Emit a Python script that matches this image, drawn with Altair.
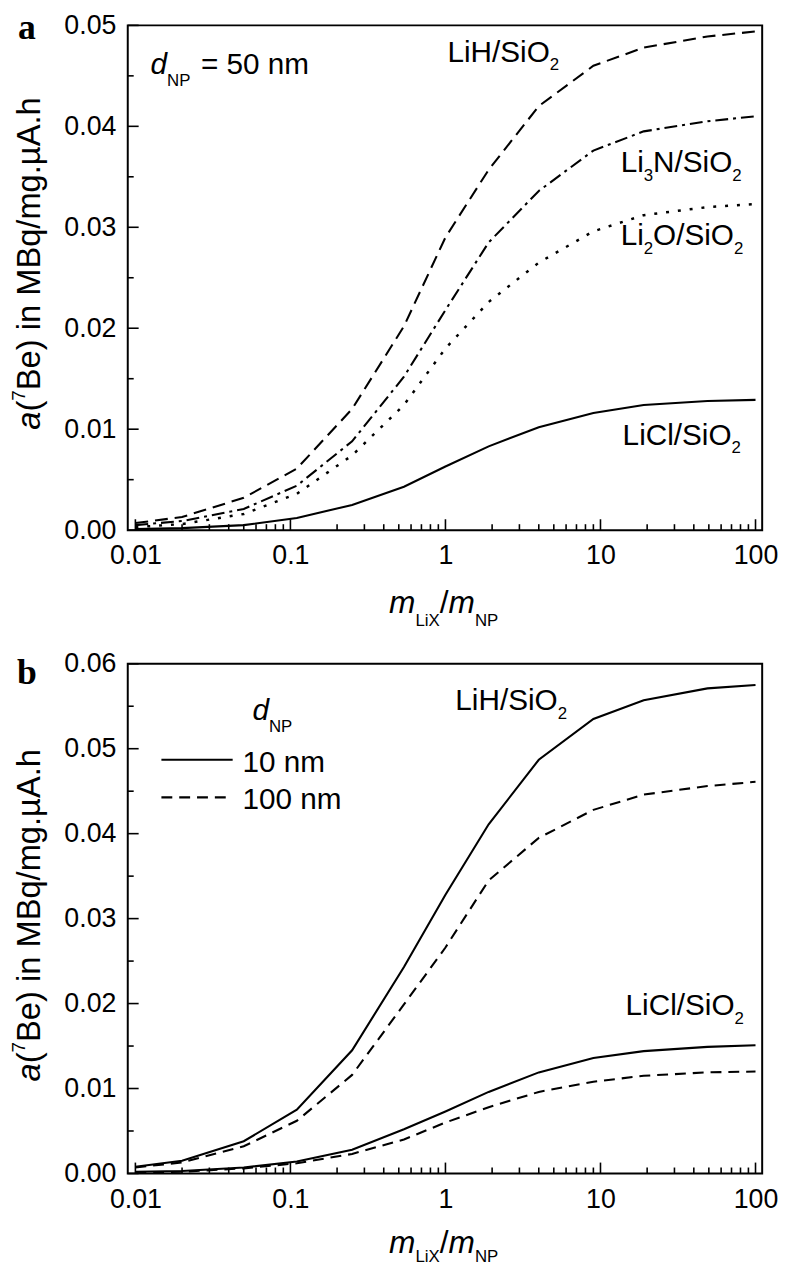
import altair as alt
import pandas as pd

# ---------------- data ----------------
x_vals = [0.01, 0.02, 0.05, 0.11, 0.25, 0.54, 1.0, 1.9, 4.0, 9.0, 19.0, 49.0, 100.0]

a_lih = [0.0007, 0.0013, 0.0032, 0.0061, 0.0120, 0.0202, 0.0290, 0.0357, 0.0420, 0.0460, 0.0478, 0.0489, 0.0494]
a_li3n = [0.0005, 0.0009, 0.0021, 0.0044, 0.0088, 0.0152, 0.0218, 0.0285, 0.0336, 0.0376, 0.0395, 0.0405, 0.0410]
a_li2o = [0.0003, 0.0006, 0.0016, 0.0036, 0.0074, 0.0124, 0.0180, 0.0226, 0.0265, 0.0296, 0.0312, 0.0320, 0.0323]
a_licl = [0.0001, 0.0002, 0.0005, 0.0012, 0.0025, 0.0043, 0.0063, 0.0083, 0.0102, 0.0116, 0.0124, 0.0128, 0.0129]

b_lih_10 = [0.0008, 0.0015, 0.0038, 0.0075, 0.0145, 0.0243, 0.0328, 0.0411, 0.0487, 0.0535, 0.0557, 0.0571, 0.0575]
b_lih_100 = [0.0007, 0.0013, 0.0032, 0.0062, 0.0116, 0.0199, 0.0266, 0.0345, 0.0395, 0.0428, 0.0446, 0.0456, 0.0461]
b_licl_10 = [0.0002, 0.0003, 0.0007, 0.0014, 0.0028, 0.0052, 0.0073, 0.0096, 0.0119, 0.0136, 0.0144, 0.0149, 0.0151]
b_licl_100 = [0.0001, 0.0002, 0.0006, 0.0012, 0.0023, 0.0040, 0.0060, 0.0078, 0.0096, 0.0108, 0.0115, 0.0119, 0.0120]

x_major = [0.01, 0.1, 1, 10, 100]
x_minor = [0.02, 0.03, 0.04, 0.05, 0.06, 0.07, 0.08, 0.09,
           0.2, 0.3, 0.4, 0.5, 0.6, 0.7, 0.8, 0.9,
           2, 3, 4, 5, 6, 7, 8, 9,
           20, 30, 40, 50, 60, 70, 80, 90]
ya_major = [0.0, 0.01, 0.02, 0.03, 0.04, 0.05]
ya_minor = [0.005, 0.015, 0.025, 0.035, 0.045]
yb_major = [0.0, 0.01, 0.02, 0.03, 0.04, 0.05, 0.06]
yb_minor = [0.005, 0.015, 0.025, 0.035, 0.045, 0.055]

# ---------------- styling ----------------
FONT = "Liberation Sans, Arial, Helvetica, sans-serif"
SERIF = "Liberation Serif, Times New Roman, serif"
W, HA, HB = 641, 510, 515
TA = 18.5     # expected page y of panel a plot top (used to place annotations)
LW = 2.1

CW = {' ': 278, '(': 333, ')': 333, '.': 278, '/': 278, '=': 584, 'A': 667, 'B': 667,
      'C': 722, 'H': 722, 'L': 556, 'M': 833, 'N': 722, 'O': 778, 'P': 667, 'S': 667,
      'X': 667, 'a': 556, 'd': 556, 'e': 556, 'g': 556, 'h': 556, 'i': 222, 'l': 222,
      'm': 833, 'n': 556, 'q': 556, 'µ': 576}


def tw(s, size):
    return sum(CW.get(c, 556) for c in s) * size / 1000.0


def rich(pieces, x0, y0, angle=0):
    """pieces: (text, size, baseline shift, italic)"""
    out = []
    pos = 0.0
    for text, size, shift, italic in pieces:
        if angle == 0:
            x, y = x0 + pos, y0 + shift
        else:
            x, y = x0 + shift, y0 - pos
        kw = dict(align="left", baseline="alphabetic", fontSize=size, font=FONT,
                  color="black", fontStyle="italic" if italic else "normal")
        if angle:
            kw["angle"] = angle
        out.append(
            alt.Chart(pd.DataFrame({"t": [text]})).mark_text(**kw).encode(
                text="t:N", x=alt.value(x), y=alt.value(y))
        )
        pos += tw(text, size)
    return out


def letter(ch, x, y):
    return alt.Chart(pd.DataFrame({"t": [ch]})).mark_text(
        align="left", baseline="alphabetic", fontSize=36, font=SERIF,
        fontWeight="bold", color="black").encode(text="t:N", x=alt.value(x), y=alt.value(y))


X = alt.X("x:Q",
          scale=alt.Scale(type="log", domain=[0.008929, 110.4], nice=False),
          axis=alt.Axis(values=x_major, format="~g", ticks=False, domain=False, grid=False,
                        labelFontSize=27, labelFont=FONT, labelColor="black",
                        labelPadding=13, labelFlush=False, title=None))


def make_y(top, values):
    return alt.Y("y:Q",
                  scale=alt.Scale(domain=[0, top], nice=False, zero=True),
                  axis=alt.Axis(values=values, format=".2f", ticks=False, domain=False,
                                grid=False, labelFontSize=27, labelFont=FONT,
                                labelColor="black", labelPadding=12, title=None))


def line(vals, dash, Y, width=LW):
    df = pd.DataFrame({"x": x_vals, "y": vals})
    kw = dict(color="black", strokeWidth=width, strokeCap="butt")
    if dash:
        kw["strokeDash"] = dash
    return alt.Chart(df).mark_line(**kw).encode(x=X, y=Y)


def ticks(Y, H, ymaj, ymin):
    out = []
    for vals, ln in ((x_major, 11), (x_minor, 6)):
        out.append(alt.Chart(pd.DataFrame({"x": vals})).mark_rule(color="black", strokeWidth=1.6)
                   .encode(x=X, y=alt.value(H), y2=alt.value(H - ln)))
    for vals, ln in ((ymaj, 11), (ymin, 6)):
        out.append(alt.Chart(pd.DataFrame({"y": vals})).mark_rule(color="black", strokeWidth=1.6)
                   .encode(y=Y, x=alt.value(0), x2=alt.value(ln)))
    return out


def ytitle(y0):
    return rich([("a", 33, 0, True), ("(", 33, 0, False), ("7", 19, -15, False),
                 ("Be) in MBq/mg.µA.h", 33, 0, False)], -89, y0, angle=270)


def xtitle(base, sub):
    return rich([("m", 32, 0, True), ("LiX", 17, sub, False), ("/", 32, 0, False),
                 ("m", 32, 0, True), ("NP", 17, sub, False)], 264, base)


def chem(parts, x0, y0):
    pieces = []
    for i, p in enumerate(parts):
        if i % 2 == 0:
            pieces.append((p, 30, 0, False))
        else:
            pieces.append((p, 17, 9, False))
    return rich([q for q in pieces if q[0]], x0, y0)


# ---------------- panel a ----------------
YA = make_y(0.05, ya_major)
layers_a = [
    line(a_lih, [13, 7], YA),
    line(a_li3n, [13, 5, 3, 5], YA),
    line(a_li2o, [3, 9], YA, 2.5),
    line(a_licl, None, YA),
]
layers_a += ticks(YA, HA, ya_major, ya_minor)
layers_a += chem(["LiH/SiO", "2"], 323, 55 - TA)
layers_a += chem(["Li", "3", "N/SiO", "2"], 498, 167 - TA)
layers_a += chem(["Li", "2", "O/SiO", "2"], 498, 240 - TA)
layers_a += chem(["LiCl/SiO", "2"], 500, 442 - TA)
layers_a += rich([("d", 30, 0, True), ("NP", 17, 12, False)], 23, 68 - TA)
layers_a += rich([("= 50 nm", 30, 0, False)], 74, 68 - TA)
layers_a += ytitle(427 - TA)
layers_a += xtitle(612 - TA, 13)
layers_a.append(letter("a", -111, 32 - TA))
panel_a = alt.layer(*layers_a).properties(width=W, height=HA)

# ---------------- panel b ----------------
YB = make_y(0.06, yb_major)
one = pd.DataFrame({"k": [0]})
layers_b = [
    line(b_lih_10, None, YB),
    line(b_lih_100, [11, 7], YB),
    line(b_licl_10, None, YB),
    line(b_licl_100, [11, 7], YB),
]
layers_b += ticks(YB, HB, yb_major, yb_minor)
layers_b += chem(["LiH/SiO", "2"], 331, 47)
layers_b += chem(["LiCl/SiO", "2"], 503, 355)
layers_b += rich([("d", 30, 0, True), ("NP", 17, 12, False)], 126, 57)
layers_b.append(alt.Chart(one).mark_rule(color="black", strokeWidth=LW)
                .encode(x=alt.value(34), x2=alt.value(106), y=alt.value(97)))
layers_b.append(alt.Chart(one).mark_rule(color="black", strokeWidth=LW, strokeDash=[11, 7])
                .encode(x=alt.value(34), x2=alt.value(106), y=alt.value(135)))
layers_b += rich([("10 nm", 30, 0, False)], 116, 109)
layers_b += rich([("100 nm", 30, 0, False)], 116, 147)
layers_b += ytitle(422)
layers_b += xtitle(HB + 80, 9)
layers_b.append(letter("b", -112, 20))
panel_b = alt.layer(*layers_b).properties(width=W, height=HB)

chart = alt.vconcat(panel_a, panel_b, spacing=135, bounds="flush").properties(
    padding={"left": 1, "top": -6, "right": 0, "bottom": 0}
).configure_view(stroke="black", strokeWidth=2)

chart.save("out.html", embed_options={"renderer": "svg", "actions": False})
